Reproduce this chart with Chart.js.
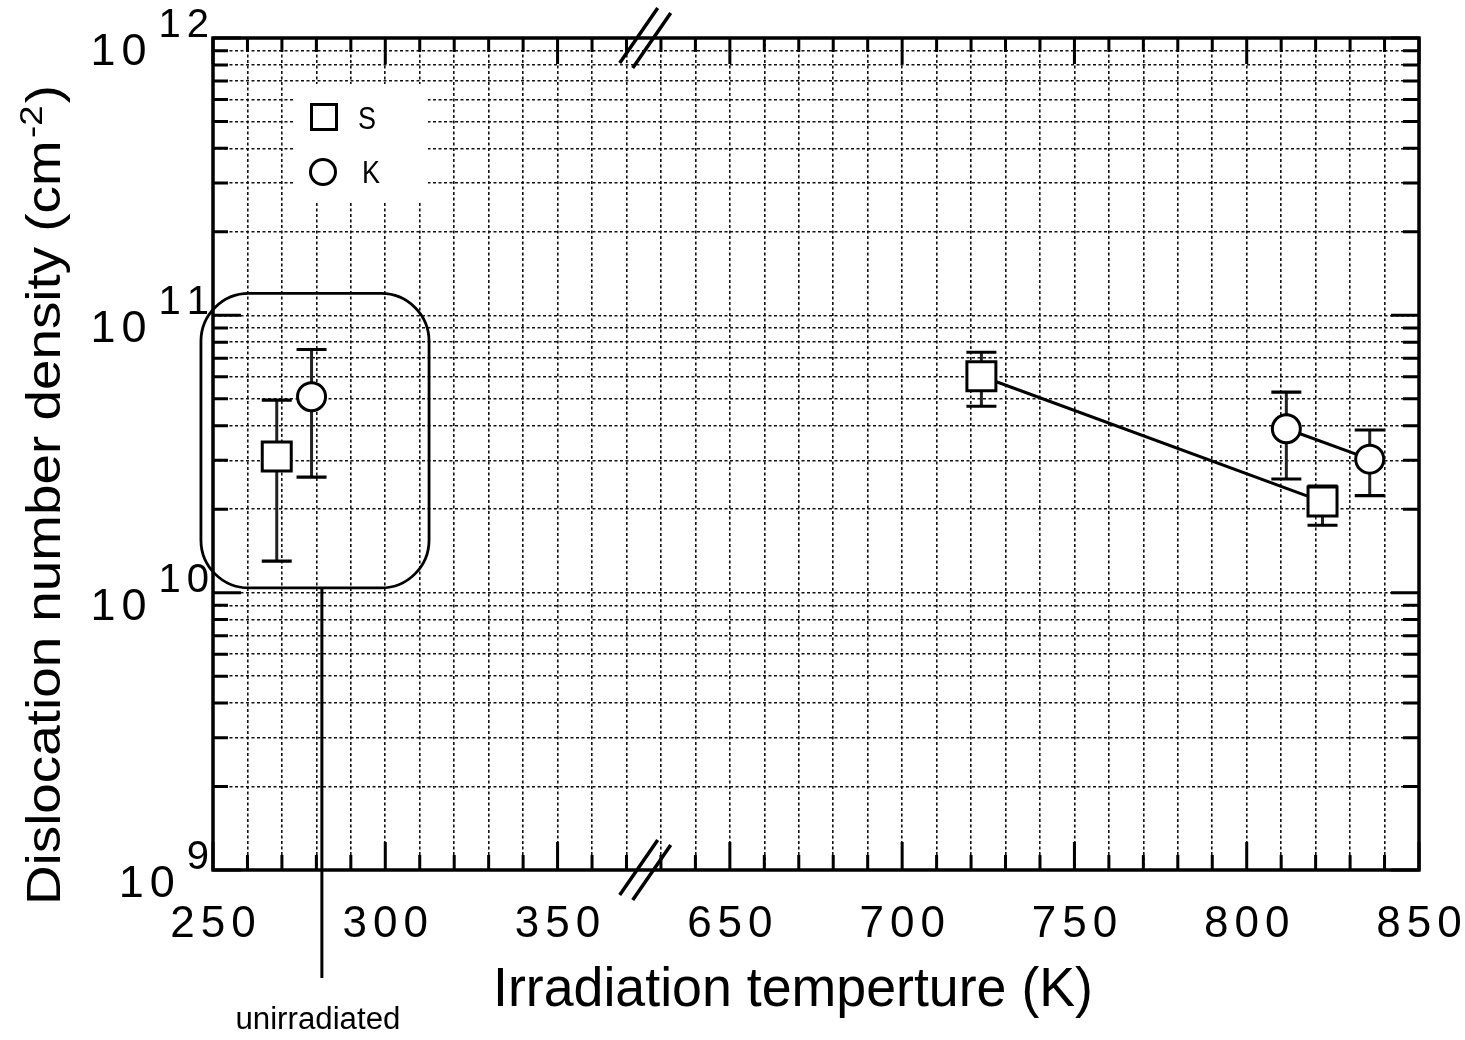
<!DOCTYPE html>
<html><head><meta charset="utf-8">
<script src="https://cdn.jsdelivr.net/npm/chart.js@4/dist/chart.umd.min.js"></script>
<style>html,body{margin:0;padding:0;background:#fff}#wrap{width:1465px;height:1040px;position:relative}</style>
</head><body><div id="wrap"><canvas id="c" width="1465" height="1040"></canvas></div>
<script>
// ---- data ----
const xTickValues = [250, 300, 350, 650, 700, 750, 800, 850];
const xTickLabels = ['250', '300', '350', '650', '700', '750', '800', '850'];
const yDecades = [9, 10, 11, 12];
const seriesNames = ['S', 'K'];
// S (squares): first point is the unirradiated specimen
const sTemp = [268.5, 723, 822];
const sDensity = [3.10e10, 6.03e10, 2.13e10];
const sLow = [1.30e10, 4.70e10, 1.75e10];
const sHigh = [4.95e10, 7.36e10, 2.42e10];
// K (circles): first point is the unirradiated specimen
const kTemp = [278.6, 811.5, 835.7];
const kDensity = [5.09e10, 3.90e10, 3.03e10];
const kLow = [2.61e10, 2.57e10, 2.24e10];
const kHigh = [7.53e10, 5.29e10, 3.86e10];
// axis break: 375 K on the left part meets 625 K on the right part
const breakLow = 375, breakHigh = 625;
// unirradiated group box (data units)
const unirrBoxX = [246.5, 312.7];
const unirrBoxY = [1.20e11, 1.04e10];
const unirrLineX = 281.6;
const unirrLabel = 'unirradiated';
const xTitle = 'Irradiation temperture (K)';
const yTitle = 'Dislocation number density (cm';

function toAxis(t) { return t <= breakLow ? t : t - (breakHigh - breakLow); }
const pts = (T, D, from, to) => T.slice(from, to).map((t, i) => ({ x: toAxis(t), y: D[from + i] }));

const FONT = '"Liberation Sans", Arial, Helvetica, sans-serif';
const INK = '#000';

function spacedText(ctx, str, x, y, gap, align) {
  const widths = [...str].map(ch => ctx.measureText(ch).width);
  const total = widths.reduce((a, b) => a + b, 0) + gap * (str.length - 1);
  let sx = align === 'center' ? x - total / 2 : align === 'right' ? x - total : x;
  ctx.textAlign = 'left';
  [...str].forEach((ch, i) => { ctx.fillText(ch, sx, y); sx += widths[i] + gap; });
  return total;
}
function fitText(ctx, str, x, y, width, align) {
  const w = ctx.measureText(str).width;
  const s = width / w;
  ctx.save();
  ctx.translate(x, y);
  ctx.scale(s, 1);
  ctx.textAlign = align || 'left';
  ctx.fillText(str, 0, 0);
  ctx.restore();
}

const errorBars = {
  id: 'errorBars',
  beforeDatasetsDraw(chart) {
    const { ctx, scales: { x, y } } = chart;
    ctx.save();
    [[sTemp, sLow, sHigh], [kTemp, kLow, kHigh]].forEach(([T, L, H]) => {
      T.forEach((t, i) => {
        const px = x.getPixelForValue(toAxis(t));
        const pl = y.getPixelForValue(L[i]);
        const ph = y.getPixelForValue(H[i]);
        ctx.strokeStyle = '#222';
        ctx.lineWidth = 3;
        ctx.beginPath(); ctx.moveTo(px, pl); ctx.lineTo(px, ph); ctx.stroke();
        ctx.strokeStyle = INK;
        ctx.lineWidth = 3.2;
        ctx.beginPath();
        ctx.moveTo(px - 15, pl); ctx.lineTo(px + 15, pl);
        ctx.moveTo(px - 15, ph); ctx.lineTo(px + 15, ph);
        ctx.stroke();
      });
    });
    ctx.restore();
  }
};

const decorations = {
  id: 'decorations',
  afterDraw(chart) {
    const { ctx, chartArea: a, scales: { x, y } } = chart;
    ctx.save();
    ctx.strokeStyle = INK; ctx.fillStyle = INK;
    // inward ticks
    ctx.lineWidth = 3;
    x.ticks.forEach(t => {
      const px = x.getPixelForValue(t.value);
      const major = (t.value - 250) % 50 === 0;
      ctx.beginPath();
      ctx.moveTo(px, a.bottom); ctx.lineTo(px, a.bottom - (major ? 28 : 15));
      ctx.moveTo(px, a.top); ctx.lineTo(px, a.top + (major ? 26 : 14));
      ctx.stroke();
    });
    y.ticks.forEach(t => {
      const py = y.getPixelForValue(t.value);
      const major = Math.abs(Math.log10(t.value) - Math.round(Math.log10(t.value))) < 1e-9;
      ctx.beginPath();
      ctx.moveTo(a.left, py); ctx.lineTo(a.left + (major ? 28 : 15), py);
      ctx.moveTo(a.right, py); ctx.lineTo(a.right - (major ? 28 : 16), py);
      ctx.stroke();
    });
    // frame
    ctx.lineWidth = 3.5;
    ctx.strokeRect(a.left, a.top, a.right - a.left, a.bottom - a.top);
    // break marks
    const cx = x.getPixelForValue(breakLow);
    ctx.lineWidth = 3.5;
    [a.top, a.bottom].forEach(ay => {
      ctx.beginPath();
      ctx.moveTo(cx - 24, ay + 25); ctx.lineTo(cx + 14, ay - 30);
      ctx.moveTo(cx - 11, ay + 30); ctx.lineTo(cx + 27, ay - 25);
      ctx.stroke();
    });
    // legend
    const lx = a.left + 80, ly = a.top + 46;
    ctx.fillStyle = '#fff';
    ctx.fillRect(lx, ly, 135, 119);
    ctx.fillStyle = INK; ctx.lineWidth = 3;
    ctx.strokeRect(a.left + 111 - 12.5, a.top + 79 - 12.5, 25, 25);
    ctx.beginPath(); ctx.arc(a.left + 110, a.top + 134, 12.5, 0, Math.PI * 2); ctx.stroke();
    ctx.font = '32px ' + FONT; ctx.textBaseline = 'alphabetic'; ctx.textAlign = 'left';
    fitText(ctx, seriesNames[0], a.left + 145, a.top + 91, 18, 'left');
    fitText(ctx, seriesNames[1], a.left + 149, a.top + 145, 18, 'left');
    // unirradiated box
    const bx0 = x.getPixelForValue(unirrBoxX[0]), bx1 = x.getPixelForValue(unirrBoxX[1]);
    const by0 = y.getPixelForValue(unirrBoxY[0]), by1 = y.getPixelForValue(unirrBoxY[1]);
    ctx.lineWidth = 2.8;
    ctx.beginPath(); ctx.roundRect(bx0, by0, bx1 - bx0, by1 - by0, 48); ctx.stroke();
    const lxp = x.getPixelForValue(unirrLineX);
    ctx.lineWidth = 3;
    ctx.beginPath(); ctx.moveTo(lxp, by1); ctx.lineTo(lxp, a.bottom + 108); ctx.stroke();
    ctx.font = '31px ' + FONT;
    fitText(ctx, unirrLabel, lxp - 4, 1029, 165, 'center');
    // y tick labels 10^n
    yDecades.forEach(d => {
      const py = y.getPixelForValue(Math.pow(10, d));
      ctx.font = '40px ' + FONT;
      const supW = spacedText(ctx, String(d), a.left - 4, py - 1, 6, 'right');
      ctx.font = '45px ' + FONT;
      spacedText(ctx, '10', a.left - 4 - supW - 12, py + 27, 6, 'right');
    });
    // x tick labels
    ctx.font = '44px ' + FONT;
    xTickValues.forEach((v, i) => {
      spacedText(ctx, xTickLabels[i], x.getPixelForValue(toAxis(v)), a.bottom + 67, 6, 'center');
    });
    // x title
    ctx.font = '56px ' + FONT;
    fitText(ctx, xTitle, (a.left + a.right) / 2 - 23, 1006, 600, 'center');
    // y title (rotated)
    ctx.save();
    ctx.translate(60, 905);
    ctx.rotate(-Math.PI / 2);
    ctx.font = '48px ' + FONT;
    const wMain = ctx.measureText(yTitle).width;
    ctx.font = '32px ' + FONT;
    const wSup = ctx.measureText('-2').width;
    ctx.font = '48px ' + FONT;
    const wClose = ctx.measureText(')').width;
    const s = 820 / (wMain + wSup + 4 + wClose);
    ctx.scale(s, 1);
    ctx.textAlign = 'left';
    ctx.fillText(yTitle, 0, 0);
    ctx.font = '32px ' + FONT;
    ctx.fillText('-2', wMain + 2, -18);
    ctx.font = '48px ' + FONT;
    ctx.fillText(')', wMain + wSup + 4, 0);
    ctx.restore();
    ctx.restore();
  }
};

const markerBase = { borderColor: INK, backgroundColor: '#fff', pointBackgroundColor: '#fff', pointBorderColor: INK, pointBorderWidth: 3, borderWidth: 3 };
const sqR = 20.5, ciR = 14;

new Chart(document.getElementById('c'), {
  type: 'scatter',
  data: {
    datasets: [
      { ...markerBase, label: seriesNames[0], data: pts(sTemp, sDensity, 0, 1), pointStyle: 'rect', pointRadius: sqR, showLine: false },
      { ...markerBase, label: seriesNames[0], data: pts(sTemp, sDensity, 1, 3), pointStyle: 'rect', pointRadius: sqR, showLine: true },
      { ...markerBase, label: seriesNames[1], data: pts(kTemp, kDensity, 0, 1), pointStyle: 'circle', pointRadius: ciR, showLine: false },
      { ...markerBase, label: seriesNames[1], data: pts(kTemp, kDensity, 1, 3), pointStyle: 'circle', pointRadius: ciR, showLine: true }
    ]
  },
  options: {
    responsive: false, animation: false, devicePixelRatio: 1,
    layout: { padding: { left: 213, top: 38, right: 46, bottom: 170 } },
    plugins: { legend: { display: false }, tooltip: { enabled: false } },
    scales: {
      x: {
        type: 'linear', min: 250, max: 600,
        afterFit(s) { s.height = 0; },
        afterBuildTicks(s) { const t = []; for (let v = 250; v <= 600; v += 10) t.push({ value: v }); s.ticks = t; },
        ticks: { display: false },
        grid: { color: '#111', lineWidth: 1.6, drawTicks: false },
        border: { display: false, dash: [3, 2.5] }
      },
      y: {
        type: 'logarithmic', min: 1e9, max: 1e12,
        afterFit(s) { s.width = 0; },
        afterBuildTicks(s) {
          const t = [];
          for (let d = yDecades[0]; d < yDecades[yDecades.length - 1]; d++)
            for (let m = 1; m <= 9; m++) t.push({ value: m * Math.pow(10, d) });
          t.push({ value: Math.pow(10, yDecades[yDecades.length - 1]) });
          s.ticks = t;
        },
        ticks: { display: false },
        grid: { color: '#111', lineWidth: 1.6, drawTicks: false },
        border: { display: false, dash: [3, 2.5] }
      }
    }
  },
  plugins: [errorBars, decorations]
});
</script></body></html>
